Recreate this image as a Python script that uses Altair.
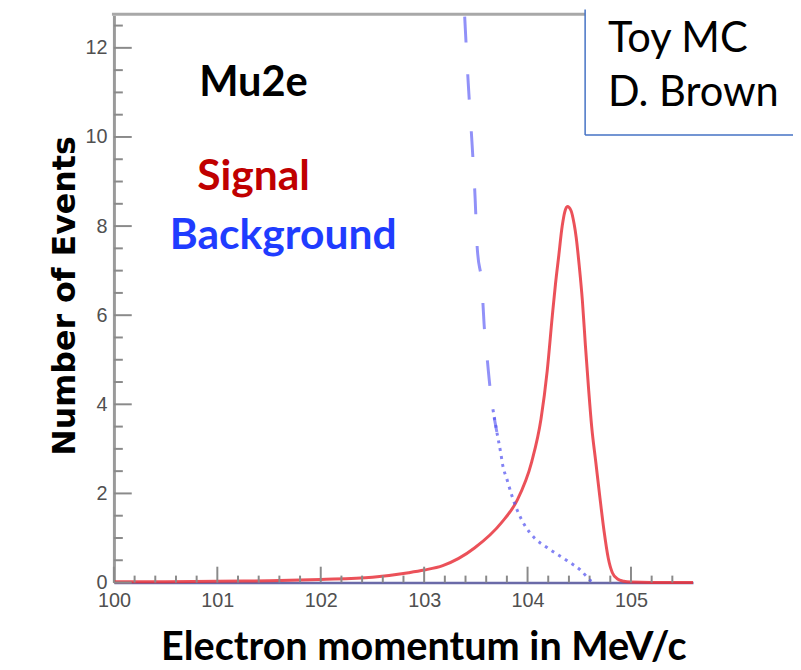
import altair as alt
import pandas as pd

# ---- data ----
signal_x = [100.0, 100.5, 101.0, 101.5, 102.0, 102.5, 102.85, 103.0, 103.18, 103.49,
            103.75, 103.9, 104.04, 104.13, 104.19, 104.24, 104.27, 104.30, 104.335,
            104.36, 104.385, 104.42, 104.45, 104.47, 104.50, 104.53, 104.56, 104.59,
            104.62, 104.66, 104.70, 104.74, 104.78, 104.82, 104.87, 104.93, 105.0,
            105.2, 105.6]
signal_y = [0.02, 0.02, 0.03, 0.04, 0.07, 0.12, 0.22, 0.28, 0.38, 0.78,
            1.35, 1.85, 2.71, 3.67, 4.75, 6.0, 6.7, 7.3, 8.0,
            8.32, 8.44, 8.35, 8.05, 7.75, 7.1, 6.33, 5.3, 4.35,
            3.5, 2.7, 1.9, 1.15, 0.55, 0.22, 0.08, 0.03, 0.01,
            0.0, 0.0]

bkg_x = [103.392, 103.426, 103.464, 103.493, 103.512, 103.56, 103.579, 103.608,
         103.636, 103.665, 103.703, 103.742, 103.761, 103.799, 103.847, 103.904,
         103.971, 104.067, 104.191, 104.383, 104.517, 104.612, 104.64]
bkg_y = [12.7, 11.22, 9.82, 8.62, 7.56, 6.62, 5.82, 5.07,
         4.40, 3.89, 3.38, 2.89, 2.62, 2.33, 1.96, 1.60,
         1.29, 1.00, 0.78, 0.49, 0.27, 0.04, 0.0]

x_ticks = [100, 101, 102, 103, 104, 105]
y_ticks = [0, 2, 4, 6, 8, 10, 12]
x_minor = [100.2, 100.4, 100.6, 100.8, 101.2, 101.4, 101.6, 101.8, 102.2, 102.4,
           102.6, 102.8, 103.2, 103.4, 103.6, 103.8, 104.2, 104.4, 104.6, 104.8,
           105.2, 105.4]
y_minor = [0.5, 1, 1.5, 2.5, 3, 3.5, 4.5, 5, 5.5, 6.5, 7, 7.5, 8.5, 9, 9.5,
           10.5, 11, 11.5, 12.5]

W, H = 585, 573
xs = alt.Scale(domain=[100, 105.6], nice=False, zero=False)
ys = alt.Scale(domain=[0, 12.73], nice=False, zero=False)

sig = pd.DataFrame({"x": signal_x, "y": signal_y})
bkg = pd.DataFrame({"x": bkg_x, "y": bkg_y})

x_axis = alt.Axis(values=x_ticks, format="d", title=None, grid=False, ticks=False,
                  labelFlush=False, labelFont="Liberation Sans", labelFontSize=20,
                  labelColor="#505050", labelPadding=8,
                  domainColor="#6a6aa8", domainWidth=2.5)
y_axis = alt.Axis(values=y_ticks, format="d", title="Number of Events", grid=False,
                  ticks=False, labelFlush=False, labelFont="Liberation Sans",
                  labelFontSize=20, labelColor="#505050",
                  labelPadding=7, domainColor="#9a9a9a", domainWidth=3,
                  titleFont="DejaVu Sans", titleFontSize=32, titleFontWeight="bold",
                  titleColor="black", titleAngle=270, titleX=-40, titleY=283,
                  titleAlign="center", titleBaseline="alphabetic")

signal_line = alt.Chart(sig).mark_line(color="#e8323c", strokeWidth=3, opacity=0.85,
                                       interpolate="monotone").encode(
    x=alt.X("x:Q", scale=xs, axis=x_axis),
    y=alt.Y("y:Q", scale=ys, axis=y_axis),
)

bkg_upper = alt.Chart(bkg).transform_filter(alt.datum.y >= 3.38).mark_line(
    color="#6c6cf5", strokeWidth=3, opacity=0.75, strokeDash=[26, 32],
    interpolate="monotone").encode(
    x=alt.X("x:Q", scale=xs), y=alt.Y("y:Q", scale=ys))

bkg_lower = alt.Chart(bkg).transform_filter(alt.datum.y <= 3.89).mark_line(
    color="#5a5af0", strokeWidth=3, opacity=0.75, strokeDash=[3, 5],
    interpolate="monotone").encode(
    x=alt.X("x:Q", scale=xs), y=alt.Y("y:Q", scale=ys))

xmaj = pd.DataFrame({"x": x_ticks})
xmin = pd.DataFrame({"x": x_minor})
ymaj = pd.DataFrame({"y": y_ticks})
ymin = pd.DataFrame({"y": y_minor})

tick_style = dict(color="#8a8a8a", strokeWidth=2)
xt_major = alt.Chart(xmaj).mark_rule(**tick_style).encode(
    x=alt.X("x:Q", scale=xs), y=alt.value(H), y2=alt.value(H - 16))
xt_minor = alt.Chart(xmin).mark_rule(**tick_style).encode(
    x=alt.X("x:Q", scale=xs), y=alt.value(H), y2=alt.value(H - 7))
yt_major = alt.Chart(ymaj).mark_rule(**tick_style).encode(
    y=alt.Y("y:Q", scale=ys), x=alt.value(0), x2=alt.value(18))
yt_minor = alt.Chart(ymin).mark_rule(**tick_style).encode(
    y=alt.Y("y:Q", scale=ys), x=alt.value(0), x2=alt.value(9))

one = pd.DataFrame({"a": [0]})
top_frame = alt.Chart(one).mark_rule(color="#a8a8a8", strokeWidth=3).encode(
    x=alt.value(-2), x2=alt.value(480), y=alt.value(-1))

# annotation box (open to the right edge of the page)
box_fill = alt.Chart(one).mark_rect(fill="white").encode(
    x=alt.value(476), x2=alt.value(820), y=alt.value(-6), y2=alt.value(121))
box_left = alt.Chart(one).mark_rule(color="#4472c4", strokeWidth=1.5).encode(
    x=alt.value(476), y=alt.value(-6), y2=alt.value(121))
box_bottom = alt.Chart(one).mark_rule(color="#4472c4", strokeWidth=1.5).encode(
    x=alt.value(476), x2=alt.value(820), y=alt.value(121))

def label(text, x, y, size, color="black", weight="bold", align="center", font="Lato"):
    return alt.Chart(one).mark_text(text=text, font=font, fontSize=size, fontWeight=weight,
                                    color=color, align=align, baseline="alphabetic").encode(
        x=alt.value(x), y=alt.value(y))

texts = [
    label("Mu2e", 141, 81, 42),
    label("Signal", 141, 176, 43, color="#c00000"),
    label("Background", 171, 236, 43, color="#1f3cff"),
    label("Toy MC", 499, 37, 42, weight="normal", align="left"),
    label("D. Brown", 499, 92, 42, weight="normal", align="left"),
    label("Electron momentum in MeV/c", 313, 651, 40),
]

chart = alt.layer(
    signal_line, xt_major, xt_minor, yt_major, yt_minor,
    bkg_upper, bkg_lower, top_frame, box_fill, box_left, box_bottom, *texts
).properties(
    width=W, height=H,
    autosize=alt.AutoSizeParams(type="none"),
    padding={"left": 107, "top": 4, "right": 101, "bottom": 90},
).configure_view(stroke=None)

chart.save("out.html", embed_options={"renderer": "svg", "actions": False})
